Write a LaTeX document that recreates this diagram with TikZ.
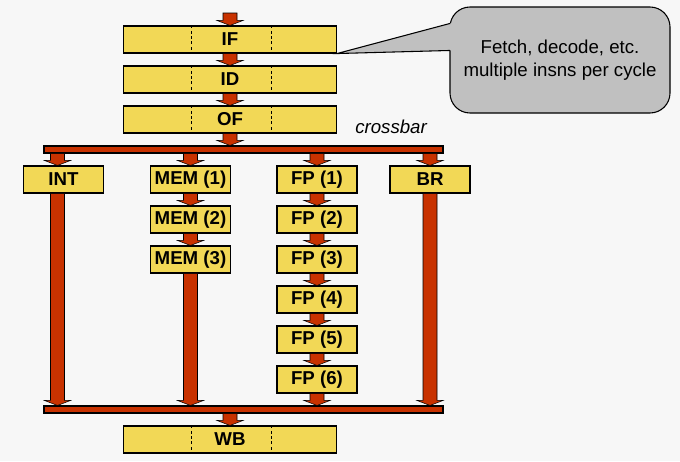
\documentclass[tikz,border=0pt]{standalone}
\usepackage{fontspec}
\setmainfont{Liberation Sans}
\usetikzlibrary{calc}
\definecolor{bgcol}{RGB}{247,247,247}
\definecolor{stageyellow}{RGB}{242,216,86}
\definecolor{pipered}{RGB}{200,50,0}
\definecolor{calloutgray}{RGB}{192,192,192}
\begin{document}
\begin{tikzpicture}[x=0.75pt,y=-0.75pt,
  wide/.style={draw=black, line width=0.8pt, fill=stageyellow, inner sep=0pt,
    minimum width=159.75pt, minimum height=20.25pt, font=\fontsize{14pt}{16pt}\selectfont\bfseries},
  unit/.style={draw=black, line width=0.8pt, fill=stageyellow, inner sep=0pt,
    minimum width=60pt, minimum height=20.25pt, font=\fontsize{14pt}{16pt}\selectfont\bfseries},
  bar/.style={draw=black, line width=0.8pt, fill=pipered, inner sep=0pt,
    minimum width=299.25pt, minimum height=5.25pt},
  divider/.style={line width=0.6pt, dash pattern=on 2.2pt off 1.8pt},
  blk/.style={fill=pipered, draw=black, line width=0.4pt, to path={
    ($(\tikztostart)+(-7,0)$) -- ($(\tikztotarget)+(-7,-5)$) -- ($(\tikztotarget)+(-13,-5)$)
    -- (\tikztotarget) -- ($(\tikztotarget)+(13,-5)$) -- ($(\tikztotarget)+(7,-5)$)
    -- ($(\tikztostart)+(7,0)$) -- cycle}},
  callout/.style={draw=black, line width=0.8pt, fill=calloutgray, rounded corners=15pt,
    minimum width=165pt, minimum height=79.5pt, align=center, inner sep=0pt,
    font=\fontsize{14pt}{17.25pt}\selectfont}
]
\fill[bgcol] (0,0) rectangle (680,461);
\useasboundingbox (0,0) rectangle (680,461);

% front-end stages
\node[wide] (IF) at (230,39.5) {IF};
\node[wide] (ID) at (230,79.5) {ID};
\node[wide] (OF) at (230,119.5) {OF};
\node[wide] (WB) at (230,439.5) {WB};
\foreach \s in {IF,ID,OF,WB}{
  \draw[divider] ($(\s.north)+(-39,0)$) -- ($(\s.south)+(-39,0)$);
  \draw[divider] ($(\s.north)+(41,0)$) -- ($(\s.south)+(41,0)$);
}

% crossbars
\node[bar] (bar1) at (243.5,149.5) {};
\node[bar] (bar2) at (243.5,409.5) {};

% execution units
\node[unit] (INT) at (63.5,179.5) {INT};
\node[unit] (MEM1) at (190.5,179.5) {MEM (1)};
\node[unit] (MEM2) at (190.5,219.5) {MEM (2)};
\node[unit] (MEM3) at (190.5,259.5) {MEM (3)};
\node[unit] (FP1) at (317,179.5) {FP (1)};
\node[unit] (FP2) at (317,219.5) {FP (2)};
\node[unit] (FP3) at (317,259.5) {FP (3)};
\node[unit] (FP4) at (317,299.5) {FP (4)};
\node[unit] (FP5) at (317,339.5) {FP (5)};
\node[unit] (FP6) at (317,379.5) {FP (6)};
\node[unit] (BR) at (430,179.5) {BR};

\node[anchor=base west, inner sep=0pt, font=\fontsize{14pt}{16pt}\selectfont\itshape] (xbar) at (355,133) {crossbar};

\coordinate (in) at (230,13);
\coordinate (xint) at (57.5,0);

% arrows
\path[blk] (in) to (IF.north);
\path[blk] (IF.south) to (ID.north);
\path[blk] (ID.south) to (OF.north);
\path[blk] (OF.south) to (OF.south |- bar1.north);

\path[blk] (bar1.south -| xint) to (INT.north -| xint);
\path[blk] (bar1.south -| MEM1.north) to (MEM1.north);
\path[blk] (bar1.south -| FP1.north) to (FP1.north);
\path[blk] (bar1.south -| BR.north) to (BR.north);

\path[blk] (MEM1.south) to (MEM2.north);
\path[blk] (MEM2.south) to (MEM3.north);
\path[blk] (FP1.south) to (FP2.north);
\path[blk] (FP2.south) to (FP3.north);
\path[blk] (FP3.south) to (FP4.north);
\path[blk] (FP4.south) to (FP5.north);
\path[blk] (FP5.south) to (FP6.north);

\path[blk] (INT.south -| xint) to (bar2.north -| xint);
\path[blk] (MEM3.south) to (MEM3.south |- bar2.north);
\path[blk] (FP6.south) to (FP6.south |- bar2.north);
\path[blk] (BR.south) to (BR.south |- bar2.north);

\path[blk] (bar2.south -| WB.north) to (WB.north);

% callout
\node[callout] (note) at (560,60) {Fetch, decode, etc.\\multiple insns per cycle};
\fill[calloutgray] ($(note.north west)+(0.5,17)$) -- (IF.south east) -- ($(note.north west)+(0.5,44)$)
  -- ($(note.north west)+(8,44)$) -- ($(note.north west)+(8,17)$) -- cycle;
\draw[line width=0.8pt] ($(note.north west)+(0.5,17)$) -- (IF.south east) -- ($(note.north west)+(0.5,44)$);
\end{tikzpicture}
\end{document}
